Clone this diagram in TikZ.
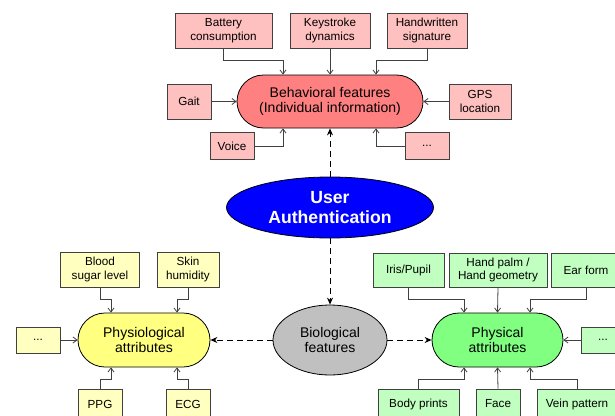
\documentclass[tikz,border=0pt]{standalone}
\usepackage{fontspec}
\setmainfont{Liberation Sans}
\usetikzlibrary{arrows.meta,shapes.geometric}
\definecolor{pinkbox}{HTML}{FFC0C0}
\definecolor{pinkmain}{HTML}{FF8080}
\definecolor{yelbox}{HTML}{FFFFC0}
\definecolor{yelmain}{HTML}{FFFF80}
\definecolor{grnbox}{HTML}{C0FFC0}
\definecolor{grnmain}{HTML}{80FF80}
\definecolor{graymain}{HTML}{C0C0C0}
\definecolor{lineclr}{HTML}{404040}
\begin{document}
\begin{tikzpicture}[x=1pt,y=-1pt,
  box/.style={draw=lineclr, line width=0.8pt, inner sep=0pt, align=center,
    font=\fontsize{11.7}{13.5}\selectfont},
  stad/.style={draw=black, line width=0.8pt, inner sep=0pt, align=center,
    font=\fontsize{14}{15.5}\selectfont},
  conn/.style={draw=lineclr, line width=0.8pt, -{Straight Barb[length=4pt,width=6pt]}},
  dline/.style={draw=black, line width=1pt, dash pattern=on 6pt off 4pt,
    -{Stealth[length=7pt,width=6pt]}}]
\useasboundingbox (0,0) rectangle (615,415);
\clip (0,0) rectangle (615,415);

% central nodes
\node[stad, fill=pinkmain, minimum width=186pt, minimum height=53pt, rounded corners=26.5pt] (beh) at (330,101.5) {Behavioral features\\(Individual information)};
\node[ellipse, draw=black, line width=0.8pt, fill=blue, inner sep=0pt, minimum width=207pt, minimum height=61pt, align=center, text=white, font=\fontsize{17.6}{20}\selectfont\bfseries] (ua) at (330,207.5) {User\\Authentication};
\node[ellipse, draw=black, line width=0.8pt, fill=graymain, inner sep=0pt, minimum width=114pt, minimum height=70pt, align=center, font=\fontsize{14}{15.5}\selectfont] (bio) at (330,340) {Biological\\features};
\node[stad, fill=yelmain, minimum width=132pt, minimum height=54pt, rounded corners=27pt] (physio) at (144,340) {Physiological\\attributes};
\node[stad, fill=grnmain, minimum width=131pt, minimum height=54pt, rounded corners=27pt] (phys) at (497.5,340) {Physical\\attributes};

% behavioral boxes
\node[box, fill=pinkbox, minimum width=97pt, minimum height=35pt] (batt) at (223.5,30.5) {Battery\\consumption};
\node[box, fill=pinkbox, minimum width=80pt, minimum height=35pt] (keys) at (330,30.5) {Keystroke\\dynamics};
\node[box, fill=pinkbox, minimum width=80pt, minimum height=35pt] (hand) at (427,30.5) {Handwritten\\signature};
\node[box, fill=pinkbox, minimum width=44pt, minimum height=35pt] (gait) at (189,101.5) {Gait};
\node[box, fill=pinkbox, minimum width=62pt, minimum height=35pt] (gps) at (480,101.5) {GPS\\location};
\node[box, fill=pinkbox, minimum width=44pt, minimum height=27pt] (voice) at (232,146) {Voice};
\node[box, fill=pinkbox, minimum width=44pt, minimum height=27pt] (bdots) at (427,146) {...};

% physiological boxes
\node[box, fill=yelbox, minimum width=79pt, minimum height=35pt] (blood) at (100,269.5) {Blood\\sugar level};
\node[box, fill=yelbox, minimum width=62pt, minimum height=35pt] (skin) at (188,269.5) {Skin\\humidity};
\node[box, fill=yelbox, minimum width=44pt, minimum height=26pt] (ydots) at (38,340) {...};
\node[box, fill=yelbox, minimum width=44pt, minimum height=30pt] (ppg) at (100,404) {PPG};
\node[box, fill=yelbox, minimum width=44pt, minimum height=30pt] (ecg) at (188,404) {ECG};

% physical boxes
\node[box, fill=grnbox, minimum width=71pt, minimum height=34pt] (iris) at (408.5,270) {Iris/Pupil};
\node[box, fill=grnbox, minimum width=98pt, minimum height=34pt] (palm) at (498,270) {Hand palm /\\Hand geometry};
\node[box, fill=grnbox, minimum width=70pt, minimum height=34pt] (ear) at (586,270) {Ear form};
\node[box, fill=grnbox, minimum width=44pt, minimum height=26pt] (gdots) at (603,340) {...};
\node[box, fill=grnbox, minimum width=81pt, minimum height=30pt] (body) at (418.5,404) {Body prints};
\node[box, fill=grnbox, minimum width=44pt, minimum height=30pt] (face) at (498,404) {Face};
\node[box, fill=grnbox, minimum width=80pt, minimum height=30pt] (vein) at (577,404) {Vein pattern};

% behavioral connectors
\draw[conn] (batt.south) -- ++(0,12) -| ([xshift=-47pt]beh.north);
\draw[conn] (keys.south) -- (beh.north);
\draw[conn] (hand.south) -- ++(0,12) -| ([xshift=46pt]beh.north);
\draw[conn] (gait.east) -- (beh.west);
\draw[conn] (gps.west) -- (beh.east);
\draw[conn] (voice.east) -| ([xshift=-47pt]beh.south);
\draw[conn] (bdots.west) -| ([xshift=46pt]beh.south);

% physiological connectors
\draw[conn] (blood.south) -- ++(0,12) -| ([xshift=-33pt]physio.north);
\draw[conn] (skin.south) -- ++(0,12) -| ([xshift=33pt]physio.north);
\draw[conn] (ydots.east) -- (physio.west);
\draw[conn] (ppg.north) -- ++(0,-9) -| ([xshift=-33pt]physio.south);
\draw[conn] (ecg.north) -- ++(0,-9) -| ([xshift=33pt]physio.south);

% physical connectors
\draw[conn] (iris.south) -- ++(0,12) -| ([xshift=-33.5pt]phys.north);
\draw[conn] (palm.south) -- (phys.north);
\draw[conn] (ear.south) -- ++(0,12) -| ([xshift=32.5pt]phys.north);
\draw[conn] (gdots.west) -- (phys.east);
\draw[conn] (body.north) -- ++(0,-9) -| ([xshift=-33.5pt]phys.south);
\draw[conn] (face.north) -- (phys.south);
\draw[conn] (vein.north) -- ++(0,-9) -| ([xshift=32.5pt]phys.south);

% dashed connectors
\draw[dline] (ua.north) -- (beh.south);
\draw[dline] (ua.south) -- (bio.north);
\draw[dline] (bio.west) -- (physio.east);
\draw[dline] (bio.east) -- (phys.west);
\end{tikzpicture}
\end{document}
